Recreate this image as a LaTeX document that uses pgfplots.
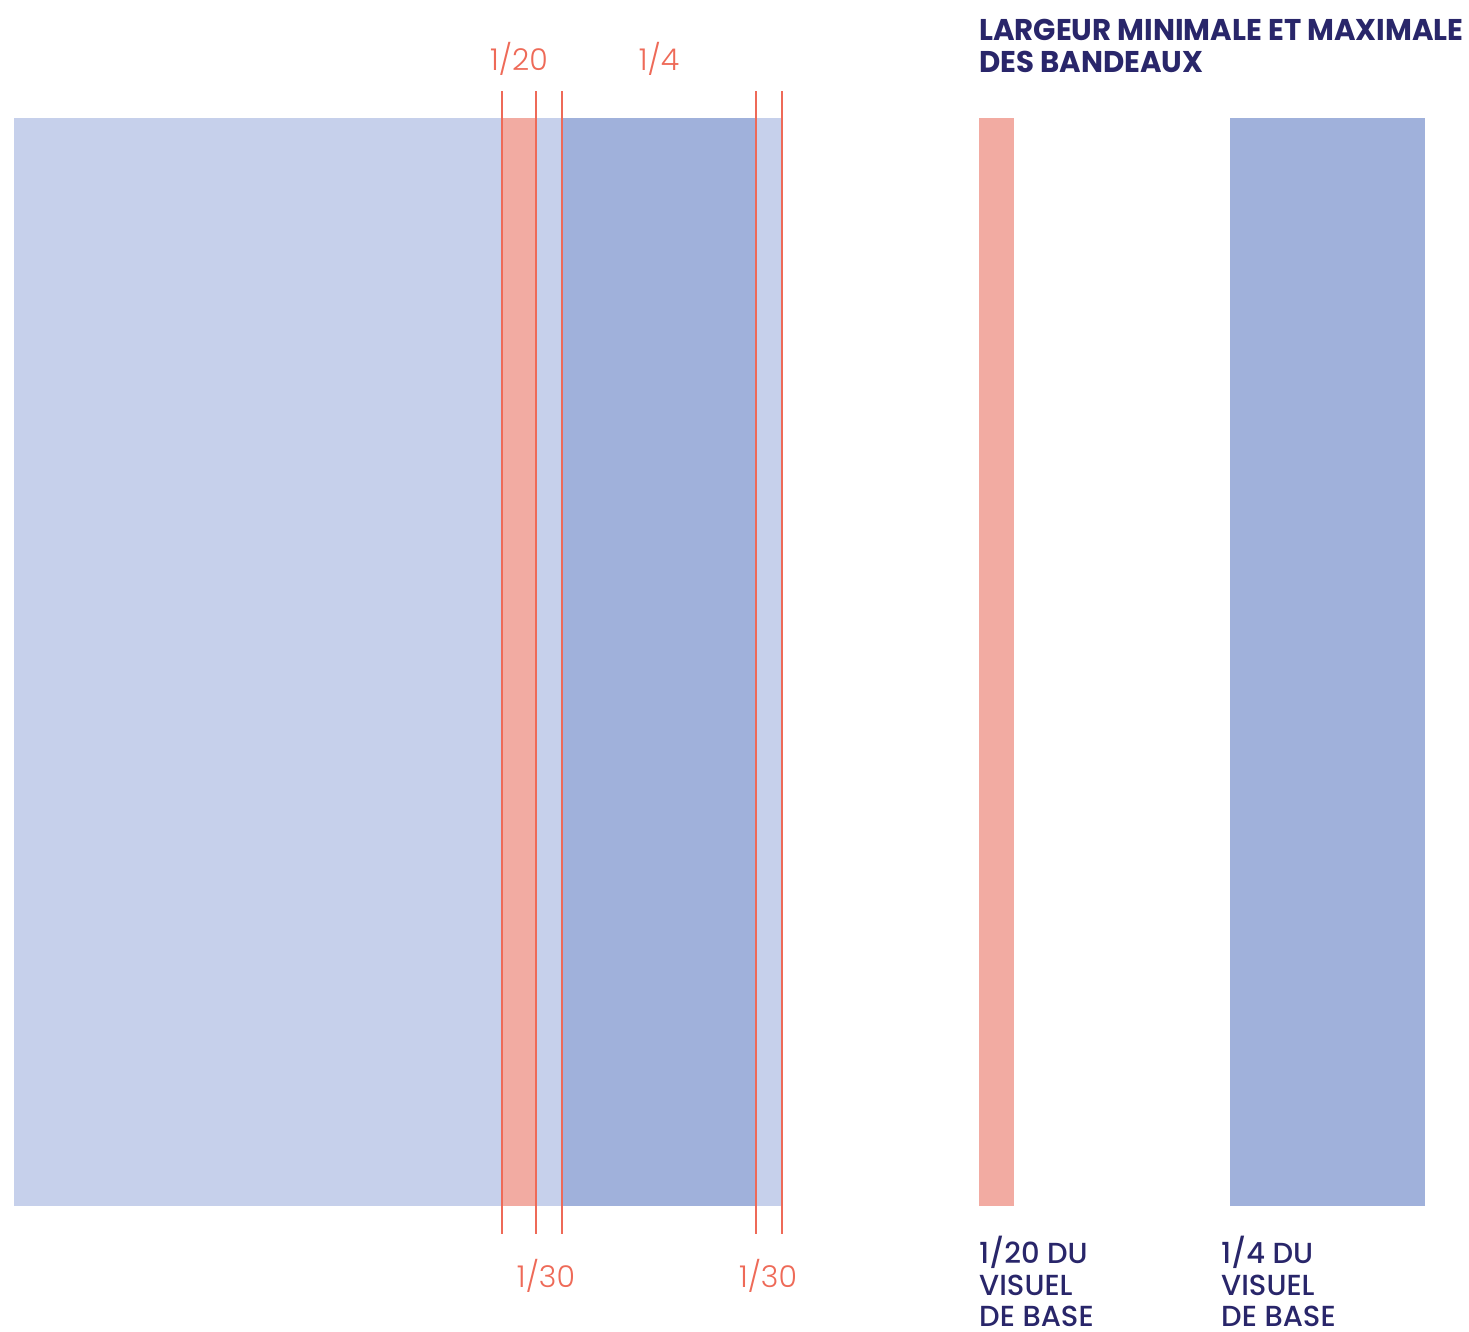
\documentclass[border=0pt]{standalone}
\usepackage{pgfplots}
\pgfplotsset{compat=1.18}
\usepackage{fontspec}
\setmainfont{Poppins}
\newfontfamily\titlefont[FakeStretch=0.975]{Poppins}
\newfontfamily\medfont[UprightFont={* Medium}]{Poppins}
\newfontfamily\lightfont[UprightFont={* Light}]{Poppins}
\definecolor{paleblue}{HTML}{C6D0EB}
\definecolor{midblue}{HTML}{A0B1DB}
\definecolor{salmon}{HTML}{F2ABA2}
\definecolor{guide}{HTML}{EE6A58}
\definecolor{navy}{HTML}{29266A}
\begin{document}
\begin{tikzpicture}
  \begin{axis}[
      scale only axis,
      width=1469pt, height=1331pt,
      xmin=0, xmax=1469, ymin=0, ymax=1331,
      y dir=reverse,
      hide axis,
      clip=false,
    ]
    % keep the whole frame as the page
    \path (axis cs:0,0) rectangle (axis cs:1469,1331);

    % base visual and the two bands on it
    \addplot[fill=paleblue, draw=none] coordinates {(14,118) (782,118) (782,1206) (14,1206)} -- cycle;
    \addplot[fill=salmon, draw=none] coordinates {(502,118) (536,118) (536,1206) (502,1206)} -- cycle;
    \addplot[fill=midblue, draw=none] coordinates {(562,118) (756,118) (756,1206) (562,1206)} -- cycle;

    % bands alone, on the right
    \addplot[fill=salmon, draw=none] coordinates {(979,118) (1014,118) (1014,1206) (979,1206)} -- cycle;
    \addplot[fill=midblue, draw=none] coordinates {(1230,118) (1425,118) (1425,1206) (1230,1206)} -- cycle;

    % guide lines
    \addplot[guide, line width=2pt] coordinates {(502,91) (502,1234)};
    \addplot[guide, line width=2pt] coordinates {(536,91) (536,1234)};
    \addplot[guide, line width=2pt] coordinates {(562,91) (562,1234)};
    \addplot[guide, line width=2pt] coordinates {(756,91) (756,1234)};
    \addplot[guide, line width=2pt] coordinates {(782,91) (782,1234)};

    % measures
    \node[guide, anchor=base, font=\lightfont\fontsize{30}{36}\selectfont] at (axis cs:519,70) {1/20};
    \node[guide, anchor=base, font=\lightfont\fontsize{30}{36}\selectfont] at (axis cs:659,70) {1/4};
    \node[guide, anchor=base, font=\lightfont\fontsize{30}{36}\selectfont] at (axis cs:546,1287) {1/30};
    \node[guide, anchor=base, font=\lightfont\fontsize{30}{36}\selectfont] at (axis cs:768,1287) {1/30};

    % title
    \node[navy, anchor=base west, inner sep=0pt, font=\titlefont\fontsize{30}{32}\selectfont\bfseries] at (axis cs:979,40) {LARGEUR MINIMALE ET MAXIMALE};
    \node[navy, anchor=base west, inner sep=0pt, font=\titlefont\fontsize{30}{32}\selectfont\bfseries] at (axis cs:979,72) {DES BANDEAUX};

    % captions
    \node[navy, anchor=base west, inner sep=0pt, font=\medfont\fontsize{29}{32}\selectfont] at (axis cs:979,1263) {1/20 DU};
    \node[navy, anchor=base west, inner sep=0pt, font=\medfont\fontsize{29}{32}\selectfont] at (axis cs:979,1295) {VISUEL};
    \node[navy, anchor=base west, inner sep=0pt, font=\medfont\fontsize{29}{32}\selectfont] at (axis cs:979,1326) {DE BASE};
    \node[navy, anchor=base west, inner sep=0pt, font=\medfont\fontsize{29}{32}\selectfont] at (axis cs:1221,1263) {1/4 DU};
    \node[navy, anchor=base west, inner sep=0pt, font=\medfont\fontsize{29}{32}\selectfont] at (axis cs:1221,1295) {VISUEL};
    \node[navy, anchor=base west, inner sep=0pt, font=\medfont\fontsize{29}{32}\selectfont] at (axis cs:1221,1326) {DE BASE};
  \end{axis}
\end{tikzpicture}
\end{document}
